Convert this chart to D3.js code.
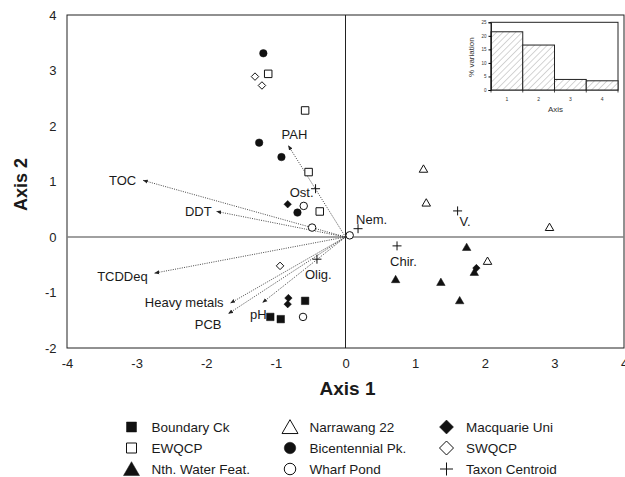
<!DOCTYPE html>
<html>
<head>
<meta charset="utf-8">
<script src="https://cdn.jsdelivr.net/npm/d3@7"></script>
<style>
  html, body { margin: 0; padding: 0; background: #fff; }
  svg { display: block; font-family: "Liberation Sans", Arial, sans-serif; }
</style>
</head>
<body>
<svg id="chart" width="625" height="477"></svg>
<script>
// ---------------- DATA ----------------
const xTicks = [-4, -3, -2, -1, 0, 1, 2, 3, 4];
const yTicks = [-2, -1, 0, 1, 2, 3, 4];

const boundaryCk   = [[-0.58, -1.15], [-1.08, -1.44], [-0.93, -1.48]];
const ewqcp        = [[-1.11, 2.94], [-0.58, 2.28], [-0.53, 1.17], [-0.37, 0.46]];
const nthWater     = [[1.74, -0.19], [0.72, -0.77], [1.37, -0.82], [1.64, -1.15], [1.85, -0.64]];
const narrawang    = [[1.12, 1.22], [1.16, 0.61], [2.93, 0.17], [2.04, -0.44]];
const bicentennial = [[-1.18, 3.31], [-1.24, 1.70], [-0.92, 1.44], [-0.69, 0.44]];
const wharfPond    = [[-0.60, 0.56], [-0.48, 0.17], [0.06, 0.03], [-0.61, -1.44]];
const macquarie    = [[-0.83, 0.59], [-0.82, -1.10], [-0.83, -1.21], [1.88, -0.56]];
const swqcp        = [[-1.30, 2.89], [-1.20, 2.73], [-0.94, -0.52]];

const taxonNames   = ["Ost.", "Olig.", "Nem.", "Chir.", "V."];
const taxonX       = [-0.43, -0.41, 0.18, 0.74, 1.61];
const taxonY       = [0.87, -0.40, 0.15, -0.16, 0.47];

const envNames     = ["TOC", "DDT", "TCDDeq", "Heavy metals", "PCB", "pH", "PAH"];
const envX         = [-2.905, -1.85, -2.74, -1.65, -1.68, -1.19, -0.82];
const envY         = [1.02, 0.46, -0.65, -1.19, -1.38, -1.18, 1.645];

const axisCategories = ["1", "2", "3", "4"];
const pctVariation   = [21.5, 16.6, 3.9, 3.4];
const insetYTicks    = [0, 5, 10, 15, 20, 25];

const legendNames = ["Boundary Ck", "EWQCP", "Nth. Water Feat.",
                     "Narrawang 22", "Bicentennial Pk.", "Wharf Pond",
                     "Macquarie Uni", "SWQCP", "Taxon Centroid"];

// ---------------- STYLE / LAYOUT ----------------
const FONT = '"Liberation Sans", Arial, sans-serif';
const seriesDefs = [
  { name: "Boundary Ck",      data: boundaryCk,   shape: "square",   filled: true },
  { name: "EWQCP",            data: ewqcp,        shape: "square",   filled: false },
  { name: "Nth. Water Feat.", data: nthWater,     shape: "triangle", filled: true },
  { name: "Narrawang 22",     data: narrawang,    shape: "triangle", filled: false },
  { name: "Bicentennial Pk.", data: bicentennial, shape: "circle",   filled: true },
  { name: "Wharf Pond",       data: wharfPond,    shape: "circle",   filled: false },
  { name: "Macquarie Uni",    data: macquarie,    shape: "diamond",  filled: true },
  { name: "SWQCP",            data: swqcp,        shape: "diamond",  filled: false },
  { name: "Taxon Centroid",   data: null,         shape: "plus",     filled: false }
];
const markSize   = { square: 7.5, triangle: 8.5, circle: 7.5, diamond: 7.5, plus: 9 };
const legendSize = { square: 10, triangle: 16, circle: 11.5, diamond: 14, plus: 13 };

// label offsets (pixels) relative to arrow tips / centroids
const envLabelStyle = {
  "TOC":          { dx: -7, dy: 5,  anchor: "end" },
  "DDT":          { dx: -5, dy: 5,  anchor: "end" },
  "TCDDeq":       { dx: -7, dy: 8,  anchor: "end" },
  "Heavy metals": { dx: -7, dy: 4,  anchor: "end" },
  "PCB":          { dx: -7, dy: 15, anchor: "end" },
  "pH":           { dx: 4,  dy: 17, anchor: "end" },
  "PAH":          { dx: 6,  dy: -7, anchor: "middle" }
};
const taxonLabelStyle = {
  "Ost.":  { dx: -2,  dy: 8,  anchor: "end" },
  "Olig.": { dx: -12, dy: 20, anchor: "start" },
  "Nem.":  { dx: -2,  dy: -5, anchor: "start" },
  "Chir.": { dx: -7,  dy: 20, anchor: "start" },
  "V.":    { dx: 2,   dy: 15, anchor: "start" }
};

function symbolPath(shape, s) {
  const h = s / 2;
  switch (shape) {
    case "square":   return `M${-h},${-h}H${h}V${h}H${-h}Z`;
    case "diamond":  return `M0,${-h}L${h},0L0,${h}L${-h},0Z`;
    case "triangle": { const ht = s * 0.866; return `M0,${-ht * 0.6}L${h},${ht * 0.4}L${-h},${ht * 0.4}Z`; }
    case "circle":   return `M${h},0A${h},${h} 0 1,1 ${-h},0A${h},${h} 0 1,1 ${h},0Z`;
    case "plus":     return `M${-h},0H${h}M0,${-h}V${h}`;
  }
}

const svg = d3.select("#chart");
const defs = svg.append("defs");

defs.append("marker")
  .attr("id", "arrow").attr("viewBox", "0 0 10 10")
  .attr("refX", 9).attr("refY", 5)
  .attr("markerWidth", 5).attr("markerHeight", 5)
  .attr("markerUnits", "userSpaceOnUse")
  .attr("orient", "auto")
  .append("path").attr("d", "M0,1L10,5L0,9Z").attr("fill", "#222");

const pat = defs.append("pattern")
  .attr("id", "hatch").attr("patternUnits", "userSpaceOnUse")
  .attr("width", 4.5).attr("height", 4.5)
  .attr("patternTransform", "rotate(45)");
pat.append("rect").attr("width", 4.5).attr("height", 4.5).attr("fill", "#fff");
pat.append("line").attr("x1", 0).attr("y1", 0).attr("x2", 0).attr("y2", 4.5)
  .attr("stroke", "#b8b8b8").attr("stroke-width", 1.2);

// ---------------- MAIN PLOT ----------------
const x = d3.scaleLinear().domain([-4, 4]).range([67, 624]);
const y = d3.scaleLinear().domain([-2, 4]).range([348, 15]);

// frame
svg.append("rect")
  .attr("x", x(-4)).attr("y", y(4))
  .attr("width", x(4) - x(-4)).attr("height", y(-2) - y(4))
  .attr("fill", "none").attr("stroke", "#222").attr("stroke-width", 1);

// zero lines
svg.append("line")
  .attr("x1", x(-4)).attr("x2", x(4)).attr("y1", y(0)).attr("y2", y(0))
  .attr("stroke", "#808080").attr("stroke-width", 1.6);
svg.append("line")
  .attr("x1", x(0)).attr("x2", x(0)).attr("y1", y(4)).attr("y2", y(-2))
  .attr("stroke", "#222").attr("stroke-width", 1);

// axes
const xAxis = svg.append("g")
  .attr("transform", `translate(0,${y(-2)})`)
  .call(d3.axisBottom(x).tickValues(xTicks).tickSize(0).tickPadding(10.5).tickFormat(d3.format("d")));
const yAxis = svg.append("g")
  .attr("transform", `translate(${x(-4)},0)`)
  .call(d3.axisLeft(y).tickValues(yTicks).tickSize(0).tickPadding(10.5).tickFormat(d3.format("d")));
[xAxis, yAxis].forEach(g => {
  g.select(".domain").remove();
  g.selectAll("text").attr("font-family", FONT).attr("font-size", 13).attr("fill", "#222");
});
// use ASCII hyphen-minus like the original
xAxis.selectAll("text").text(d => String(d));
yAxis.selectAll("text").text(d => String(d));

// axis titles
svg.append("text")
  .attr("x", x(0) + 2).attr("y", 395)
  .attr("text-anchor", "middle").attr("font-family", FONT)
  .attr("font-weight", "bold").attr("font-size", 19).attr("fill", "#1a1a1a")
  .text("Axis 1");
svg.append("text")
  .attr("transform", `translate(27,${(y(4) + y(-2)) / 2 + 3}) rotate(-90)`)
  .attr("text-anchor", "middle").attr("font-family", FONT)
  .attr("font-weight", "bold").attr("font-size", 18).attr("fill", "#1a1a1a")
  .text("Axis 2");

// environmental arrows
const envData = envNames.map((n, i) => ({ name: n, x: envX[i], y: envY[i] }));
svg.append("g").selectAll("line").data(envData).join("line")
  .attr("x1", x(0)).attr("y1", y(0))
  .attr("x2", d => x(d.x)).attr("y2", d => y(d.y))
  .attr("stroke", "#333").attr("stroke-width", 0.9)
  .attr("stroke-dasharray", "1,1.3")
  .attr("marker-end", "url(#arrow)");
svg.append("g").selectAll("text").data(envData).join("text")
  .attr("x", d => x(d.x) + envLabelStyle[d.name].dx)
  .attr("y", d => y(d.y) + envLabelStyle[d.name].dy)
  .attr("text-anchor", d => envLabelStyle[d.name].anchor)
  .attr("font-family", FONT).attr("font-size", 13).attr("fill", "#1a1a1a")
  .text(d => d.name);

// site points
const ptsG = svg.append("g");
seriesDefs.filter(s => s.data).forEach(s => {
  ptsG.append("g").selectAll("path").data(s.data).join("path")
    .attr("transform", d => `translate(${x(d[0])},${y(d[1])})`)
    .attr("d", symbolPath(s.shape, markSize[s.shape]))
    .attr("fill", s.filled ? "#111" : "#fff")
    .attr("stroke", "#111").attr("stroke-width", s.filled ? 0.5 : 1);
});

// taxon centroids
const taxa = taxonNames.map((n, i) => ({ name: n, x: taxonX[i], y: taxonY[i] }));
svg.append("g").selectAll("path").data(taxa).join("path")
  .attr("transform", d => `translate(${x(d.x)},${y(d.y)})`)
  .attr("d", symbolPath("plus", markSize.plus))
  .attr("fill", "none").attr("stroke", "#111").attr("stroke-width", 1);
svg.append("g").selectAll("text").data(taxa).join("text")
  .attr("x", d => x(d.x) + taxonLabelStyle[d.name].dx)
  .attr("y", d => y(d.y) + taxonLabelStyle[d.name].dy)
  .attr("text-anchor", d => taxonLabelStyle[d.name].anchor)
  .attr("font-family", FONT).attr("font-size", 13).attr("fill", "#1a1a1a")
  .text(d => d.name);

// ---------------- INSET ----------------
const xi = d3.scaleBand().domain(axisCategories).range([491, 618]).padding(0);
const yi = d3.scaleLinear().domain([0, 25]).range([90, 22.3]);
const inset = svg.append("g");
inset.append("rect").attr("x", 491).attr("y", yi(25))
  .attr("width", 618 - 491).attr("height", yi(0) - yi(25))
  .attr("fill", "#fff").attr("stroke", "#222").attr("stroke-width", 1);
inset.selectAll("rect.bar").data(pctVariation).join("rect")
  .attr("class", "bar")
  .attr("x", (d, i) => xi(axisCategories[i]))
  .attr("y", d => yi(d))
  .attr("width", xi.bandwidth())
  .attr("height", d => yi(0) - yi(d))
  .attr("fill", "url(#hatch)").attr("stroke", "#222").attr("stroke-width", 1);
const yiAxis = inset.append("g").attr("transform", "translate(491,0)")
  .call(d3.axisLeft(yi).tickValues(insetYTicks).tickSize(2.5).tickPadding(2));
yiAxis.select(".domain").attr("stroke", "#222");
yiAxis.selectAll("text").attr("font-family", FONT).attr("font-size", 4.5).attr("fill", "#333");
const xiAxis = inset.append("g").attr("transform", `translate(0,${yi(0)})`)
  .call(d3.axisBottom(xi).tickSize(0).tickPadding(7));
xiAxis.select(".domain").remove();
xiAxis.selectAll("text").attr("font-family", FONT).attr("font-size", 5).attr("fill", "#333");
// boundary ticks below the bars
inset.append("g").selectAll("line").data(axisCategories.concat(["end"])).join("line")
  .attr("x1", (d, i) => i < 4 ? xi(d) : xi.range()[1])
  .attr("x2", (d, i) => i < 4 ? xi(d) : xi.range()[1])
  .attr("y1", yi(0)).attr("y2", yi(0) + 2.5)
  .attr("stroke", "#222").attr("stroke-width", 0.8);
inset.append("text")
  .attr("x", (491 + 618) / 2 + 1).attr("y", 111.5)
  .attr("text-anchor", "middle").attr("font-family", FONT).attr("font-size", 8).attr("fill", "#333")
  .text("Axis");
inset.append("text")
  .attr("transform", `translate(473.5,${(yi(0) + yi(25)) / 2 + 1}) rotate(-90)`)
  .attr("text-anchor", "middle").attr("font-family", FONT).attr("font-size", 8).attr("fill", "#333")
  .text("% variation");

// ---------------- LEGEND ----------------
const legCols = [131.5, 290, 446.5];
const legTextX = [151.5, 309.5, 466];
const legRows = [427, 448, 469];
const leg = svg.append("g");
legendNames.forEach((name, i) => {
  const s = seriesDefs.find(d => d.name === name);
  const c = Math.floor(i / 3), r = i % 3;
  leg.append("path")
    .attr("transform", `translate(${legCols[c]},${legRows[r] + (s.shape === "triangle" ? 1 : 0)})`)
    .attr("d", symbolPath(s.shape, legendSize[s.shape]))
    .attr("fill", s.shape === "plus" ? "none" : (s.filled ? "#111" : "#fff"))
    .attr("stroke", "#111").attr("stroke-width", s.filled ? 0.5 : 1);
  leg.append("text")
    .attr("x", legTextX[c]).attr("y", legRows[r] + 4.8)
    .attr("font-family", FONT).attr("font-size", 13.5).attr("fill", "#1a1a1a")
    .text(name);
});
</script>
</body>
</html>
